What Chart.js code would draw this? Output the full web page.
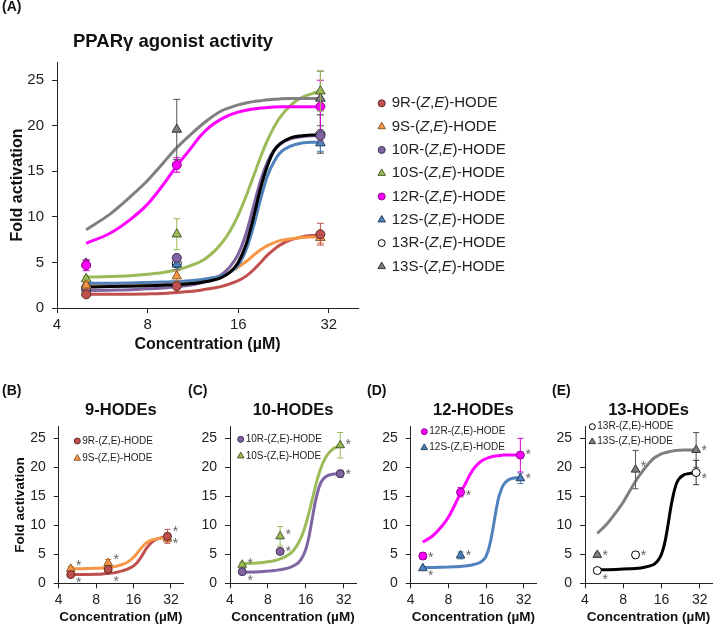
<!DOCTYPE html>
<html>
<head>
<meta charset="utf-8">
<script src="https://cdn.jsdelivr.net/npm/chart.js@4"></script>
<style>
body { margin: 0; background: #fff; width: 720px; height: 625px; position: relative; overflow: hidden; }
canvas { position: absolute; }
</style>
</head>
<body>
<canvas id="cA" width="720" height="370" style="left:0;top:0"></canvas>
<canvas id="cB" width="192" height="250" style="left:0;top:375px"></canvas>
<canvas id="cC" width="182" height="250" style="left:180px;top:375px"></canvas>
<canvas id="cD" width="182" height="250" style="left:360px;top:375px"></canvas>
<canvas id="cE" width="185" height="250" style="left:535px;top:375px"></canvas>
<script>
// measured concentrations (uM) and tick labels
const conc = [5, 10, 30];
const xTicks = [4, 8, 16, 32];
const yTicks = [0, 5, 10, 15, 20, 25];

const names = ['9R-(Z,E)-HODE', '9S-(Z,E)-HODE', '10R-(Z,E)-HODE', '10S-(Z,E)-HODE',
               '12R-(Z,E)-HODE', '12S-(Z,E)-HODE', '13R-(Z,E)-HODE', '13S-(Z,E)-HODE'];

// fold activation, mean and error
const mean9R = [1.5, 2.4, 8.1],   err9R = [0.3, 0.3, 1.2];
const mean9S = [2.5, 3.5, 7.7],   err9S = [0.4, 0.6, 0.6];
const mean10R = [2.0, 5.5, 18.9], err10R = [0.3, 0.3, 0.6];
const mean10S = [3.2, 8.1, 23.8], err10S = [0.3, 1.7, 2.2];
const mean12R = [4.7, 15.7, 22.1], err12R = [0.6, 0.8, 2.9];
const mean12S = [2.6, 4.8, 18.1], err12S = [0.2, 0.6, 0.9];
const mean13R = [2.2, 4.9, 19.1], err13R = [0.4, 0.2, 2.1];
const mean13S = [4.9, 19.6, 23.0], err13S = [0.3, 3.3, 3.0];

// fitted curves
const curveConc = [5, 6, 7, 8, 9, 10, 11, 12, 13, 14, 15, 16, 17, 18, 19, 20, 21, 22, 24, 26, 28, 30];
const fit9R  = [1.5, 1.5, 1.52, 1.55, 1.6, 1.7, 1.8, 1.95, 2.15, 2.35, 2.65, 3.0, 3.5, 4.2, 5.0, 5.8, 6.4, 6.9, 7.5, 7.8, 7.95, 8.0];
const fit9S  = [2.5, 2.5, 2.55, 2.6, 2.65, 2.75, 2.85, 3.0, 3.25, 3.55, 3.95, 4.5, 5.1, 5.8, 6.4, 6.85, 7.15, 7.4, 7.6, 7.75, 7.8, 7.8];
const fit10R = [1.9, 1.95, 2.0, 2.1, 2.2, 2.35, 2.5, 2.75, 3.1, 3.6, 4.5, 5.9, 8.2, 11.2, 14.0, 16.0, 17.3, 18.0, 18.6, 18.8, 18.9, 18.9];
const fit10S = [3.4, 3.45, 3.55, 3.7, 3.9, 4.2, 4.6, 5.1, 5.9, 7.0, 8.4, 10.2, 12.3, 14.5, 16.6, 18.4, 19.8, 20.9, 22.3, 23.1, 23.5, 23.8];
const fit12R = [7.1, 8.2, 9.7, 11.4, 13.5, 15.6, 17.3, 18.9, 20.0, 20.7, 21.2, 21.5, 21.7, 21.85, 21.95, 22.0, 22.05, 22.1, 22.1, 22.1, 22.1, 22.1];
const fit12S = [2.7, 2.72, 2.75, 2.8, 2.85, 2.9, 3.0, 3.1, 3.3, 3.5, 3.9, 4.7, 6.4, 9.0, 12.0, 14.5, 16.0, 17.0, 17.8, 18.1, 18.2, 18.2];
const fit13R = [2.3, 2.35, 2.4, 2.45, 2.5, 2.55, 2.65, 2.8, 3.0, 3.3, 3.9, 5.0, 7.0, 10.0, 13.2, 15.6, 17.2, 18.0, 18.7, 18.9, 19.0, 19.0];
const fit13S = [8.6, 10.3, 12.2, 14.0, 15.9, 17.6, 18.9, 20.0, 20.9, 21.6, 22.0, 22.3, 22.5, 22.65, 22.75, 22.85, 22.9, 22.95, 23.0, 23.0, 23.0, 23.0];

const means = [mean9R, mean9S, mean10R, mean10S, mean12R, mean12S, mean13R, mean13S];
const errs = [err9R, err9S, err10R, err10S, err12R, err12S, err13R, err13S];
const fits = [fit9R, fit9S, fit10R, fit10S, fit12R, fit12S, fit13R, fit13S];

// styles
const lineColors = ['#c0504d', '#f79646', '#8064a2', '#9bbb59', '#ff00ff', '#4f81bd', '#000000', '#808080'];
const fills = ['#c0504d', '#f79646', '#8064a2', '#9bbb59', '#ff00ff', '#4f81bd', '#ffffff', '#7f7f7f'];
const edges = ['#5a2a28', '#8a5a2a', '#3d3050', '#4a5a2a', '#8a008a', '#24405e', '#000000', '#333333'];
const errColors = ['#c0504d', '#e07b30', '#8064a2', '#9bbb59', '#d000d0', '#4f81bd', '#333333', '#555555'];
const shapes = ['circle', 'triangle', 'circle', 'triangle', 'circle', 'triangle', 'circle', 'triangle'];
const starDy = [[6, 10, -7], [-6, -6, 3], [6, -2, -2], [-4, -4, -3], [-1, 1, -3], [5, -2, -2], [7, -2, 4], [-2, -5, -2]];
const family = 'Arial, "Liberation Sans", sans-serif';

const errorBars = {
  id: 'errorBars',
  beforeDatasetDraw(chart, args, o) {
    const ds = chart.data.datasets[args.index];
    if (!ds.errors) return;
    const ctx = chart.ctx, y = chart.scales.y;
    ctx.save();
    ctx.strokeStyle = ds.errColor;
    ctx.lineWidth = 1;
    args.meta.data.forEach((pt, k) => {
      const v = ds.data[k].y, e = ds.errors[k];
      const t = y.getPixelForValue(v + e), b = y.getPixelForValue(v - e);
      ctx.beginPath();
      ctx.moveTo(pt.x, t); ctx.lineTo(pt.x, b);
      ctx.moveTo(pt.x - o.cap, t); ctx.lineTo(pt.x + o.cap, t);
      ctx.moveTo(pt.x - o.cap, b); ctx.lineTo(pt.x + o.cap, b);
      ctx.stroke();
    });
    ctx.restore();
  }
};

const stars = {
  id: 'stars',
  afterDatasetsDraw(chart, args, o) {
    const ctx = chart.ctx;
    chart.data.datasets.forEach((d, i) => {
      if (!d.stars) return;
      ctx.save();
      ctx.fillStyle = '#666';
      ctx.font = '14px ' + family;
      ctx.textAlign = 'center';
      ctx.textBaseline = 'middle';
      chart.getDatasetMeta(i).data.forEach((pt, k) => ctx.fillText('*', pt.x + o.dx, pt.y + d.stars[k] + 3));
      ctx.restore();
    });
  }
};

function drawName(ctx, name, x, y, size, italic) {
  ctx.fillStyle = '#222';
  ctx.textBaseline = 'middle';
  ctx.textAlign = 'left';
  const m = italic ? name.match(/^(.*\()Z,E(\).*)$/) : null;
  const parts = m ? [[m[1], ''], ['Z', 'italic '], [',', ''], ['E', 'italic '], [m[2], '']] : [[name, '']];
  parts.forEach(([t, st]) => {
    ctx.font = st + size + 'px ' + family;
    ctx.fillText(t, x, y);
    x += ctx.measureText(t).width;
  });
}

const deco = {
  id: 'deco',
  afterDraw(chart, args, o) {
    const ctx = chart.ctx, a = chart.chartArea;
    ctx.save();
    ctx.fillStyle = '#111';
    ctx.textBaseline = 'alphabetic';
    ctx.textAlign = 'left';
    ctx.font = 'bold 14px ' + family;
    ctx.fillText(o.label, o.labelX, o.labelY);
    ctx.font = 'bold ' + o.titleSize + 'px ' + family;
    if (o.titleX != null) {
      ctx.fillText(o.title, a.left + o.titleX, a.top - o.titleGap);
    } else {
      ctx.textAlign = 'center';
      ctx.fillText(o.title, (a.left + a.right) / 2, a.top - o.titleGap);
    }
    const L = o.legend;
    chart.data.datasets.filter(d => d.errors).forEach((d, k) => {
      const x = a.left + L.dx, y = a.top + L.dy + k * L.step;
      ctx.fillStyle = d.pointBackgroundColor;
      ctx.strokeStyle = d.pointBorderColor;
      ctx.lineWidth = 1;
      const r = d.pointStyle === 'triangle' ? L.r + 0.8 : L.r;
      Chart.helpers.drawPoint(ctx, {pointStyle: d.pointStyle, radius: r, rotation: 0, borderWidth: 1}, x, y);
      drawName(ctx, d.label, x + L.tx, y, L.size, L.italic);
    });
    ctx.restore();
  }
};

function buildSets(idx, p) {
  const pts = idx.map(i => ({
    label: names[i],
    data: conc.map((c, k) => ({x: c, y: means[i][k]})),
    errors: errs[i],
    errColor: errColors[i],
    stars: p.stars ? starDy[i] : null,
    showLine: false,
    pointStyle: shapes[i],
    pointRadius: shapes[i] === 'triangle' ? p.r + 1 : p.r,
    pointBackgroundColor: fills[i],
    pointBorderColor: edges[i],
    pointBorderWidth: 1,
    backgroundColor: fills[i],
    borderColor: edges[i]
  }));
  const lines = idx.map(i => ({
    label: names[i] + ' fit',
    data: curveConc.map((c, k) => ({x: c, y: fits[i][k]})),
    borderColor: lineColors[i],
    borderWidth: p.lw,
    pointRadius: 0,
    cubicInterpolationMode: 'monotone',
    fill: false
  })).reverse();
  return pts.concat(lines);
}

function scalesFor(p) {
  return {
    x: {
      type: 'logarithmic', min: 4, max: 40,
      afterBuildTicks: s => { s.ticks = xTicks.map(v => ({value: v})); },
      afterFit: s => { s.height = p.xh; },
      ticks: {callback: v => String(v), font: {size: p.tick, family: family}, color: '#222', padding: p.xpad, maxRotation: 0, autoSkip: false},
      grid: {drawOnChartArea: false, drawTicks: true, tickLength: 5, color: '#222'},
      border: {color: '#222', width: 1},
      title: {display: true, text: 'Concentration (µM)', font: {size: p.xt, weight: 'bold', family: family}, color: '#111', padding: 0}
    },
    y: {
      min: 0, max: 27,
      afterBuildTicks: s => { s.ticks = yTicks.map(v => ({value: v})); },
      afterFit: s => { s.width = p.yw; },
      ticks: {font: {size: p.tick, family: family}, color: '#222', padding: 8},
      grid: {drawOnChartArea: false, drawTicks: true, tickLength: 5, color: '#222'},
      border: {color: '#222', width: 1},
      title: {display: p.ytitle, text: 'Fold activation', font: {size: p.yt, weight: 'bold', family: family}, color: '#111', padding: 0}
    }
  };
}

function makeChart(id, idx, p) {
  return new Chart(document.getElementById(id), {
    type: 'line',
    data: {datasets: buildSets(idx, p)},
    options: {
      responsive: false,
      animation: false,
      layout: {padding: p.pad},
      plugins: {
        legend: {display: false},
        tooltip: {enabled: false},
        errorBars: {cap: p.cap},
        stars: {dx: 8},
        deco: p.deco
      },
      scales: scalesFor(p)
    },
    plugins: [errorBars, stars, deco]
  });
}

makeChart('cA', [0, 1, 2, 3, 4, 5, 6, 7], {
  pad: {left: 8, top: 62, right: 362, bottom: 15.4}, yw: 49, xh: 46.6, xpad: 3,
  tick: 15, xt: 16, yt: 16, ytitle: true, lw: 3, r: 4.5, cap: 3.5, stars: false,
  deco: {label: '(A)', labelX: 2, labelY: 11, title: 'PPARγ agonist activity', titleSize: 18.5, titleX: 16, titleGap: 15,
         legend: {dx: 324.7, dy: 41.3, step: 23.3, r: 3.5, tx: 10, size: 15, italic: true}}
});

const small = {yw: 50, xh: 41.7, xpad: 3, tick: 14, xt: 13.5, yt: 13.5, ytitle: false, lw: 3, r: 4, cap: 3, stars: true};

makeChart('cB', [0, 1], Object.assign({}, small, {
  pad: {left: 12, top: 51.7, right: 9, bottom: 0}, yw: 46.7, ytitle: true,
  deco: {label: '(B)', labelX: 2, labelY: 20, title: '9-HODEs', titleSize: 16.5, titleGap: 12,
         legend: {dx: 18.6, dy: 14.3, step: 17.3, r: 3, tx: 5, size: 10, italic: false}}
}));
makeChart('cC', [2, 3], Object.assign({}, small, {
  pad: {left: 0, top: 51.7, right: 5, bottom: 0},
  deco: {label: '(C)', labelX: 8, labelY: 20, title: '10-HODEs', titleSize: 16.5, titleGap: 12,
         legend: {dx: 10.7, dy: 12.6, step: 16.7, r: 3, tx: 5, size: 10, italic: false}}
}));
makeChart('cD', [4, 5], Object.assign({}, small, {
  pad: {left: 0, top: 51.7, right: 4, bottom: 0}, yw: 50.7,
  deco: {label: '(D)', labelX: 7, labelY: 20, title: '12-HODEs', titleSize: 16.5, titleGap: 12,
         legend: {dx: 13.6, dy: 5, step: 16, r: 3, tx: 5, size: 10, italic: false}}
}));
makeChart('cE', [6, 7], Object.assign({}, small, {
  pad: {left: 0, top: 51.7, right: 8, bottom: 0},
  deco: {label: '(E)', labelX: 17, labelY: 20, title: '13-HODEs', titleSize: 16.5, titleGap: 12,
         legend: {dx: 7.3, dy: 0, step: 15, r: 3, tx: 5, size: 10, italic: false}}
}));
</script>
</body>
</html>
